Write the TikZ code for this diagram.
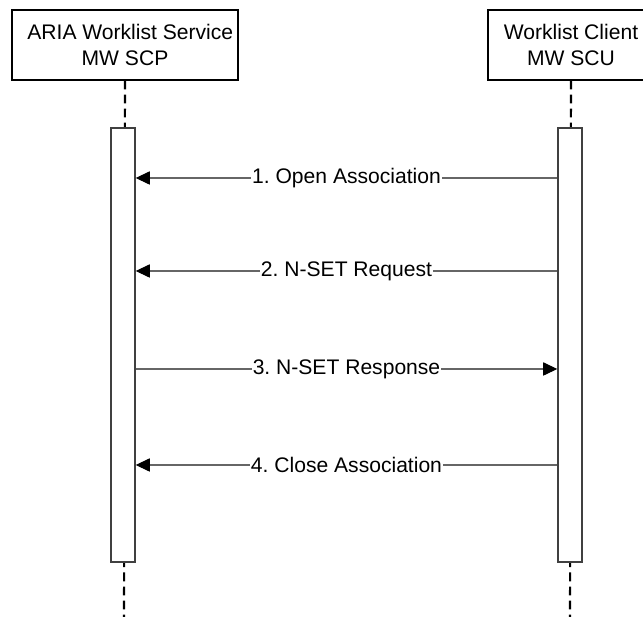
\documentclass[tikz,border=0pt]{standalone}
\usepackage{fontspec}
\setmainfont{Liberation Sans}
\usetikzlibrary{arrows.meta}
\frenchspacing

\begin{document}
\begin{tikzpicture}[x=0.02cm,y=-0.02cm,
    actor/.style={draw, line width=0.6pt, minimum width=226*0.02cm, minimum height=70*0.02cm,
                  align=center, font=\fontsize{12}{15.3}\selectfont, inner sep=0pt},
    bar/.style={draw=black!75, line width=0.8pt, fill=white, minimum width=24*0.02cm,
                minimum height=434*0.02cm, inner sep=0pt},
    life/.style={line width=1.2pt, dash pattern=on 5pt off 3pt},
    msg/.style={draw=black!60, line width=0.6pt, -{Triangle[length=8pt,width=7.5pt,color=black]}},
    lbl/.style={fill=white, inner sep=0.5pt, font=\fontsize{12}{14}\selectfont, text=black}]
	% Fix the frame of the picture
	\useasboundingbox (0,0) rectangle (643,617);
	\clip (0,0) rectangle (643,617);

	% Draw the two participants
	\node[actor] (scp) at (125,45) {\hspace*{6pt}ARIA Worklist Service\\MW SCP};
	\node[actor, minimum width=166*0.02cm] (scu) at (571,45) {Worklist Client\\MW SCU};

	% Draw the lifelines
	\coordinate (scpend) at (124,617);
	\coordinate (scuend) at (570,617);
	\draw[life] (scp.south) -- (scpend);
	\draw[life] (scu.south) -- (scuend);

	% Draw the activation bars
	\node[bar] (scpbar) at (123,345) {};
	\node[bar] (scubar) at (570,345) {};

	% Message end points on the bars
	\foreach \i/\y in {1/178, 2/271, 3/369, 4/465} {
		\coordinate (l\i) at (scpbar.east |- 0,\y);
		\coordinate (r\i) at (scubar.west |- 0,\y);
	}

	% Draw the messages
	\draw[msg] (r1) -- node[lbl] {1. Open Association} (l1);
	\draw[msg] (r2) -- node[lbl] {2. N-SET Request} (l2);
	\draw[msg] (l3) -- node[lbl] {3. N-SET Response} (r3);
	\draw[msg] (r4) -- node[lbl] {4. Close Association} (l4);
\end{tikzpicture}
\end{document}
